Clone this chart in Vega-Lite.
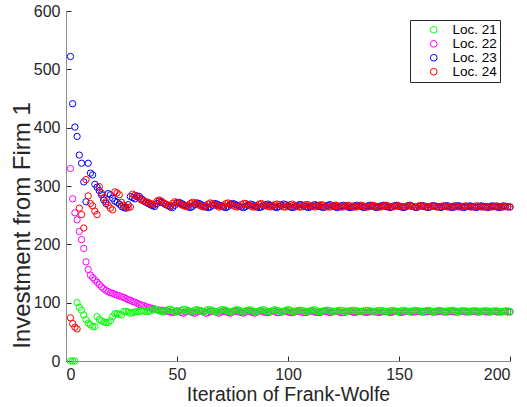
{
  "$schema": "https://vega.github.io/schema/vega-lite/v6.json",
  "width": 444,
  "height": 350,
  "autosize": "none",
  "padding": {"left": 66, "top": 11, "right": 17, "bottom": 46},
  "background": "white",
  "config": {
    "font": "Liberation Sans",
    "view": {"stroke": null},
    "axis": {
      "grid": false,
      "labelFontSize": 16,
      "labelColor": "#262626",
      "titleColor": "#262626",
      "titleFontWeight": "normal",
      "domainColor": "#8c8c8c",
      "tickColor": "#262626",
      "tickSize": -5,
      "labelPadding": 11
    }
  },
  "datasets": {
    "g": [
      {"i":2,"v":0},{"i":3,"v":0},{"i":4,"v":0},{"i":5,"v":100},{"i":6,"v":92},{"i":7,"v":87},{"i":8,"v":79},{"i":9,"v":71},{"i":10,"v":65},
      {"i":11,"v":62},{"i":12,"v":59},{"i":13,"v":59},{"i":14,"v":76},{"i":15,"v":71},{"i":16,"v":69},{"i":17,"v":67},{"i":18,"v":66},{"i":19,"v":66},{"i":20,"v":69},
      {"i":21,"v":76},{"i":22,"v":81},{"i":23,"v":81},{"i":24,"v":80},{"i":25,"v":79},{"i":26,"v":85},{"i":27,"v":85},{"i":28,"v":84},{"i":29,"v":82},{"i":30,"v":83},
      {"i":31,"v":84},{"i":32,"v":85},{"i":33,"v":85},{"i":34,"v":86},{"i":35,"v":86},{"i":36,"v":85},{"i":37,"v":85},{"i":38,"v":86},{"i":39,"v":88},{"i":40,"v":89},
      {"i":41,"v":88},{"i":42,"v":86},{"i":43,"v":85},{"i":44,"v":84},{"i":45,"v":86},{"i":46,"v":88},{"i":47,"v":89},{"i":48,"v":87},{"i":49,"v":85},{"i":50,"v":84},
      {"i":51,"v":85},{"i":52,"v":87},{"i":53,"v":89},{"i":54,"v":88},{"i":55,"v":86},{"i":56,"v":84},{"i":57,"v":85},{"i":58,"v":87},{"i":59,"v":88},{"i":60,"v":87},
      {"i":61,"v":85},{"i":62,"v":84},{"i":63,"v":86},{"i":64,"v":88},{"i":65,"v":88},{"i":66,"v":86},{"i":67,"v":85},{"i":68,"v":84},{"i":69,"v":86},{"i":70,"v":88},
      {"i":71,"v":88},{"i":72,"v":87},{"i":73,"v":85},{"i":74,"v":84},{"i":75,"v":85},{"i":76,"v":87},{"i":77,"v":88},{"i":78,"v":87},{"i":79,"v":85},{"i":80,"v":84},
      {"i":81,"v":86},{"i":82,"v":87},{"i":83,"v":88},{"i":84,"v":86},{"i":85,"v":85},{"i":86,"v":84},{"i":87,"v":86},{"i":88,"v":87},{"i":89,"v":88},{"i":90,"v":86},
      {"i":91,"v":85},{"i":92,"v":85},{"i":93,"v":86},{"i":94,"v":88},{"i":95,"v":87},{"i":96,"v":86},{"i":97,"v":84},{"i":98,"v":85},{"i":99,"v":87},{"i":100,"v":88},
      {"i":101,"v":87},{"i":102,"v":85},{"i":103,"v":85},{"i":104,"v":86},{"i":105,"v":87},{"i":106,"v":87},{"i":107,"v":86},{"i":108,"v":85},{"i":109,"v":85},{"i":110,"v":86},
      {"i":111,"v":87},{"i":112,"v":88},{"i":113,"v":86},{"i":114,"v":85},{"i":115,"v":85},{"i":116,"v":86},{"i":117,"v":87},{"i":118,"v":87},{"i":119,"v":86},{"i":120,"v":85},
      {"i":121,"v":85},{"i":122,"v":86},{"i":123,"v":87},{"i":124,"v":87},{"i":125,"v":86},{"i":126,"v":85},{"i":127,"v":85},{"i":128,"v":86},{"i":129,"v":87},{"i":130,"v":87},
      {"i":131,"v":86},{"i":132,"v":85},{"i":133,"v":85},{"i":134,"v":86},{"i":135,"v":87},{"i":136,"v":87},{"i":137,"v":86},{"i":138,"v":85},{"i":139,"v":85},{"i":140,"v":86},
      {"i":141,"v":87},{"i":142,"v":86},{"i":143,"v":86},{"i":144,"v":85},{"i":145,"v":85},{"i":146,"v":86},{"i":147,"v":87},{"i":148,"v":86},{"i":149,"v":85},{"i":150,"v":85},
      {"i":151,"v":86},{"i":152,"v":87},{"i":153,"v":86},{"i":154,"v":85},{"i":155,"v":85},{"i":156,"v":86},{"i":157,"v":87},{"i":158,"v":86},{"i":159,"v":86},{"i":160,"v":85},
      {"i":161,"v":85},{"i":162,"v":86},{"i":163,"v":87},{"i":164,"v":86},{"i":165,"v":85},{"i":166,"v":85},{"i":167,"v":86},{"i":168,"v":87},{"i":169,"v":86},{"i":170,"v":85},
      {"i":171,"v":85},{"i":172,"v":86},{"i":173,"v":86},{"i":174,"v":87},{"i":175,"v":86},{"i":176,"v":85},{"i":177,"v":85},{"i":178,"v":86},{"i":179,"v":86},{"i":180,"v":86},
      {"i":181,"v":85},{"i":182,"v":85},{"i":183,"v":86},{"i":184,"v":86},{"i":185,"v":86},{"i":186,"v":85},{"i":187,"v":85},{"i":188,"v":86},{"i":189,"v":86},{"i":190,"v":86},
      {"i":191,"v":85},{"i":192,"v":85},{"i":193,"v":86},{"i":194,"v":86},{"i":195,"v":85},{"i":196,"v":85},{"i":197,"v":85},{"i":198,"v":86},{"i":199,"v":86},{"i":200,"v":85}
    ],
    "m": [
      {"i":2,"v":330},{"i":3,"v":278},{"i":4,"v":254},{"i":5,"v":242},{"i":6,"v":222},{"i":7,"v":208},{"i":8,"v":193},{"i":9,"v":170},{"i":10,"v":157},
      {"i":11,"v":147},{"i":12,"v":143},{"i":13,"v":139},{"i":14,"v":135},{"i":15,"v":131},{"i":16,"v":127},{"i":17,"v":124},{"i":18,"v":121},{"i":19,"v":119},{"i":20,"v":117},
      {"i":21,"v":116},{"i":22,"v":114},{"i":23,"v":113},{"i":24,"v":112},{"i":25,"v":110},{"i":26,"v":109},{"i":27,"v":107},{"i":28,"v":105},{"i":29,"v":104},{"i":30,"v":102},
      {"i":31,"v":101},{"i":32,"v":99},{"i":33,"v":97},{"i":34,"v":96},{"i":35,"v":95},{"i":36,"v":93},{"i":37,"v":92},{"i":38,"v":91},{"i":39,"v":90},{"i":40,"v":89},
      {"i":41,"v":88},{"i":42,"v":87},{"i":43,"v":87},{"i":44,"v":86},{"i":45,"v":86},{"i":46,"v":85},{"i":47,"v":84},{"i":48,"v":83},{"i":49,"v":84},{"i":50,"v":86},
      {"i":51,"v":85},{"i":52,"v":83},{"i":53,"v":82},{"i":54,"v":84},{"i":55,"v":86},{"i":56,"v":85},{"i":57,"v":83},{"i":58,"v":82},{"i":59,"v":84},{"i":60,"v":86},
      {"i":61,"v":86},{"i":62,"v":84},{"i":63,"v":82},{"i":64,"v":83},{"i":65,"v":85},{"i":66,"v":86},{"i":67,"v":85},{"i":68,"v":83},{"i":69,"v":82},{"i":70,"v":84},
      {"i":71,"v":86},{"i":72,"v":85},{"i":73,"v":83},{"i":74,"v":82},{"i":75,"v":84},{"i":76,"v":85},{"i":77,"v":86},{"i":78,"v":84},{"i":79,"v":83},{"i":80,"v":82},
      {"i":81,"v":84},{"i":82,"v":86},{"i":83,"v":85},{"i":84,"v":83},{"i":85,"v":82},{"i":86,"v":84},{"i":87,"v":85},{"i":88,"v":86},{"i":89,"v":84},{"i":90,"v":83},
      {"i":91,"v":83},{"i":92,"v":84},{"i":93,"v":86},{"i":94,"v":85},{"i":95,"v":83},{"i":96,"v":83},{"i":97,"v":84},{"i":98,"v":85},{"i":99,"v":85},{"i":100,"v":84},
      {"i":101,"v":83},{"i":102,"v":83},{"i":103,"v":84},{"i":104,"v":85},{"i":105,"v":85},{"i":106,"v":84},{"i":107,"v":83},{"i":108,"v":83},{"i":109,"v":84},{"i":110,"v":85},
      {"i":111,"v":86},{"i":112,"v":84},{"i":113,"v":83},{"i":114,"v":83},{"i":115,"v":84},{"i":116,"v":85},{"i":117,"v":85},{"i":118,"v":84},{"i":119,"v":83},{"i":120,"v":84},
      {"i":121,"v":85},{"i":122,"v":85},{"i":123,"v":84},{"i":124,"v":83},{"i":125,"v":83},{"i":126,"v":84},{"i":127,"v":85},{"i":128,"v":85},{"i":129,"v":84},{"i":130,"v":83},
      {"i":131,"v":84},{"i":132,"v":85},{"i":133,"v":85},{"i":134,"v":84},{"i":135,"v":83},{"i":136,"v":84},{"i":137,"v":84},{"i":138,"v":85},{"i":139,"v":84},{"i":140,"v":84},
      {"i":141,"v":83},{"i":142,"v":84},{"i":143,"v":85},{"i":144,"v":85},{"i":145,"v":84},{"i":146,"v":83},{"i":147,"v":84},{"i":148,"v":85},{"i":149,"v":85},{"i":150,"v":84},
      {"i":151,"v":83},{"i":152,"v":84},{"i":153,"v":85},{"i":154,"v":85},{"i":155,"v":84},{"i":156,"v":84},{"i":157,"v":84},{"i":158,"v":85},{"i":159,"v":85},{"i":160,"v":84},
      {"i":161,"v":84},{"i":162,"v":84},{"i":163,"v":85},{"i":164,"v":85},{"i":165,"v":84},{"i":166,"v":84},{"i":167,"v":84},{"i":168,"v":85},{"i":169,"v":85},{"i":170,"v":84},
      {"i":171,"v":84},{"i":172,"v":84},{"i":173,"v":85},{"i":174,"v":85},{"i":175,"v":84},{"i":176,"v":84},{"i":177,"v":84},{"i":178,"v":85},{"i":179,"v":85},{"i":180,"v":84},
      {"i":181,"v":84},{"i":182,"v":84},{"i":183,"v":85},{"i":184,"v":85},{"i":185,"v":84},{"i":186,"v":84},{"i":187,"v":85},{"i":188,"v":85},{"i":189,"v":84},{"i":190,"v":84},
      {"i":191,"v":84},{"i":192,"v":85},{"i":193,"v":85},{"i":194,"v":84},{"i":195,"v":84},{"i":196,"v":84},{"i":197,"v":85},{"i":198,"v":85},{"i":199,"v":84},{"i":200,"v":84}
    ],
    "b": [
      {"i":2,"v":522},{"i":3,"v":441},{"i":4,"v":401},{"i":5,"v":385},{"i":6,"v":353},{"i":7,"v":339},{"i":8,"v":307},{"i":9,"v":273},{"i":10,"v":339},
      {"i":11,"v":322},{"i":12,"v":319},{"i":13,"v":303},{"i":14,"v":298},{"i":15,"v":292},{"i":16,"v":285},{"i":17,"v":276},{"i":18,"v":270},{"i":19,"v":287},{"i":20,"v":285},
      {"i":21,"v":279},{"i":22,"v":274},{"i":23,"v":272},{"i":24,"v":269},{"i":25,"v":265},{"i":26,"v":263},{"i":27,"v":262},{"i":28,"v":268},{"i":29,"v":282},{"i":30,"v":280},
      {"i":31,"v":278},{"i":32,"v":283},{"i":33,"v":282},{"i":34,"v":278},{"i":35,"v":275},{"i":36,"v":272},{"i":37,"v":270},{"i":38,"v":268},{"i":39,"v":266},{"i":40,"v":265},
      {"i":41,"v":270},{"i":42,"v":274},{"i":43,"v":272},{"i":44,"v":270},{"i":45,"v":268},{"i":46,"v":266},{"i":47,"v":264},{"i":48,"v":263},{"i":49,"v":267},{"i":50,"v":271},
      {"i":51,"v":272},{"i":52,"v":270},{"i":53,"v":268},{"i":54,"v":266},{"i":55,"v":264},{"i":56,"v":263},{"i":57,"v":265},{"i":58,"v":268},{"i":59,"v":271},{"i":60,"v":270},
      {"i":61,"v":268},{"i":62,"v":266},{"i":63,"v":264},{"i":64,"v":263},{"i":65,"v":264},{"i":66,"v":267},{"i":67,"v":270},{"i":68,"v":269},{"i":69,"v":267},{"i":70,"v":265},
      {"i":71,"v":264},{"i":72,"v":263},{"i":73,"v":265},{"i":74,"v":268},{"i":75,"v":270},{"i":76,"v":269},{"i":77,"v":267},{"i":78,"v":265},{"i":79,"v":264},{"i":80,"v":263},
      {"i":81,"v":265},{"i":82,"v":267},{"i":83,"v":269},{"i":84,"v":268},{"i":85,"v":266},{"i":86,"v":264},{"i":87,"v":263},{"i":88,"v":264},{"i":89,"v":266},{"i":90,"v":268},
      {"i":91,"v":269},{"i":92,"v":267},{"i":93,"v":265},{"i":94,"v":264},{"i":95,"v":263},{"i":96,"v":265},{"i":97,"v":267},{"i":98,"v":269},{"i":99,"v":268},{"i":100,"v":266},
      {"i":101,"v":264},{"i":102,"v":263},{"i":103,"v":264},{"i":104,"v":266},{"i":105,"v":268},{"i":106,"v":268},{"i":107,"v":266},{"i":108,"v":265},{"i":109,"v":263},{"i":110,"v":264},
      {"i":111,"v":266},{"i":112,"v":268},{"i":113,"v":267},{"i":114,"v":265},{"i":115,"v":264},{"i":116,"v":263},{"i":117,"v":265},{"i":118,"v":267},{"i":119,"v":268},{"i":120,"v":266},
      {"i":121,"v":265},{"i":122,"v":263},{"i":123,"v":264},{"i":124,"v":266},{"i":125,"v":267},{"i":126,"v":266},{"i":127,"v":264},{"i":128,"v":263},{"i":129,"v":264},{"i":130,"v":266},
      {"i":131,"v":267},{"i":132,"v":266},{"i":133,"v":265},{"i":134,"v":263},{"i":135,"v":264},{"i":136,"v":266},{"i":137,"v":267},{"i":138,"v":266},{"i":139,"v":264},{"i":140,"v":263},
      {"i":141,"v":265},{"i":142,"v":266},{"i":143,"v":267},{"i":144,"v":265},{"i":145,"v":264},{"i":146,"v":263},{"i":147,"v":265},{"i":148,"v":266},{"i":149,"v":267},{"i":150,"v":265},
      {"i":151,"v":264},{"i":152,"v":263},{"i":153,"v":264},{"i":154,"v":266},{"i":155,"v":267},{"i":156,"v":265},{"i":157,"v":264},{"i":158,"v":263},{"i":159,"v":265},{"i":160,"v":266},
      {"i":161,"v":266},{"i":162,"v":265},{"i":163,"v":263},{"i":164,"v":264},{"i":165,"v":266},{"i":166,"v":266},{"i":167,"v":265},{"i":168,"v":264},{"i":169,"v":263},{"i":170,"v":265},
      {"i":171,"v":266},{"i":172,"v":266},{"i":173,"v":264},{"i":174,"v":263},{"i":175,"v":264},{"i":176,"v":266},{"i":177,"v":266},{"i":178,"v":265},{"i":179,"v":263},{"i":180,"v":264},
      {"i":181,"v":265},{"i":182,"v":266},{"i":183,"v":265},{"i":184,"v":264},{"i":185,"v":263},{"i":186,"v":265},{"i":187,"v":266},{"i":188,"v":265},{"i":189,"v":264},{"i":190,"v":263},
      {"i":191,"v":265},{"i":192,"v":266},{"i":193,"v":265},{"i":194,"v":264},{"i":195,"v":263},{"i":196,"v":264},{"i":197,"v":266},{"i":198,"v":265},{"i":199,"v":264},{"i":200,"v":264}
    ],
    "r": [
      {"i":2,"v":74},{"i":3,"v":64},{"i":4,"v":58},{"i":5,"v":55},{"i":6,"v":262},{"i":7,"v":251},{"i":8,"v":228},{"i":9,"v":311},{"i":10,"v":283},
      {"i":11,"v":270},{"i":12,"v":266},{"i":13,"v":257},{"i":14,"v":251},{"i":15,"v":299},{"i":16,"v":288},{"i":17,"v":280},{"i":18,"v":273},{"i":19,"v":267},{"i":20,"v":262},
      {"i":21,"v":259},{"i":22,"v":290},{"i":23,"v":288},{"i":24,"v":285},{"i":25,"v":272},{"i":26,"v":267},{"i":27,"v":264},{"i":28,"v":263},{"i":29,"v":264},{"i":30,"v":286},
      {"i":31,"v":284},{"i":32,"v":282},{"i":33,"v":279},{"i":34,"v":276},{"i":35,"v":274},{"i":36,"v":273},{"i":37,"v":272},{"i":38,"v":270},{"i":39,"v":269},{"i":40,"v":268},
      {"i":41,"v":274},{"i":42,"v":276},{"i":43,"v":274},{"i":44,"v":271},{"i":45,"v":269},{"i":46,"v":267},{"i":47,"v":266},{"i":48,"v":270},{"i":49,"v":273},{"i":50,"v":272},
      {"i":51,"v":270},{"i":52,"v":268},{"i":53,"v":266},{"i":54,"v":265},{"i":55,"v":267},{"i":56,"v":270},{"i":57,"v":272},{"i":58,"v":271},{"i":59,"v":269},{"i":60,"v":267},
      {"i":61,"v":265},{"i":62,"v":264},{"i":63,"v":266},{"i":64,"v":269},{"i":65,"v":271},{"i":66,"v":270},{"i":67,"v":268},{"i":68,"v":266},{"i":69,"v":264},{"i":70,"v":265},
      {"i":71,"v":267},{"i":72,"v":270},{"i":73,"v":271},{"i":74,"v":269},{"i":75,"v":267},{"i":76,"v":265},{"i":77,"v":264},{"i":78,"v":265},{"i":79,"v":268},{"i":80,"v":270},
      {"i":81,"v":270},{"i":82,"v":268},{"i":83,"v":266},{"i":84,"v":264},{"i":85,"v":264},{"i":86,"v":266},{"i":87,"v":269},{"i":88,"v":270},{"i":89,"v":268},{"i":90,"v":266},
      {"i":91,"v":265},{"i":92,"v":264},{"i":93,"v":266},{"i":94,"v":268},{"i":95,"v":269},{"i":96,"v":268},{"i":97,"v":266},{"i":98,"v":264},{"i":99,"v":264},{"i":100,"v":266},
      {"i":101,"v":268},{"i":102,"v":269},{"i":103,"v":267},{"i":104,"v":265},{"i":105,"v":264},{"i":106,"v":264},{"i":107,"v":266},{"i":108,"v":268},{"i":109,"v":268},{"i":110,"v":266},
      {"i":111,"v":265},{"i":112,"v":264},{"i":113,"v":265},{"i":114,"v":267},{"i":115,"v":268},{"i":116,"v":267},{"i":117,"v":265},{"i":118,"v":264},{"i":119,"v":264},{"i":120,"v":266},
      {"i":121,"v":267},{"i":122,"v":267},{"i":123,"v":265},{"i":124,"v":264},{"i":125,"v":264},{"i":126,"v":266},{"i":127,"v":267},{"i":128,"v":266},{"i":129,"v":265},{"i":130,"v":264},
      {"i":131,"v":264},{"i":132,"v":266},{"i":133,"v":267},{"i":134,"v":266},{"i":135,"v":264},{"i":136,"v":264},{"i":137,"v":265},{"i":138,"v":267},{"i":139,"v":266},{"i":140,"v":265},
      {"i":141,"v":264},{"i":142,"v":264},{"i":143,"v":266},{"i":144,"v":267},{"i":145,"v":266},{"i":146,"v":264},{"i":147,"v":264},{"i":148,"v":265},{"i":149,"v":266},{"i":150,"v":266},
      {"i":151,"v":265},{"i":152,"v":264},{"i":153,"v":265},{"i":154,"v":266},{"i":155,"v":266},{"i":156,"v":265},{"i":157,"v":264},{"i":158,"v":264},{"i":159,"v":266},{"i":160,"v":266},
      {"i":161,"v":265},{"i":162,"v":264},{"i":163,"v":264},{"i":164,"v":265},{"i":165,"v":266},{"i":166,"v":265},{"i":167,"v":264},{"i":168,"v":264},{"i":169,"v":265},{"i":170,"v":266},
      {"i":171,"v":265},{"i":172,"v":264},{"i":173,"v":264},{"i":174,"v":265},{"i":175,"v":266},{"i":176,"v":265},{"i":177,"v":264},{"i":178,"v":264},{"i":179,"v":265},{"i":180,"v":266},
      {"i":181,"v":265},{"i":182,"v":264},{"i":183,"v":264},{"i":184,"v":265},{"i":185,"v":266},{"i":186,"v":265},{"i":187,"v":264},{"i":188,"v":264},{"i":189,"v":265},{"i":190,"v":265},
      {"i":191,"v":264},{"i":192,"v":264},{"i":193,"v":265},{"i":194,"v":266},{"i":195,"v":265},{"i":196,"v":264},{"i":197,"v":264},{"i":198,"v":265},{"i":199,"v":265},{"i":200,"v":264}
    ]
  },
  "encoding": {
    "x": {
      "field": "i", "type": "quantitative",
      "scale": {"domain": [0, 200], "nice": false, "zero": false},
      "axis": {"values": [0, 50, 100, 150, 200], "title": "Iteration of Frank-Wolfe", "titleFontSize": 19.5, "titleX": 222, "titleY": 39, "titleBaseline": "alphabetic", "labelPadding": 10.5}
    },
    "y": {
      "field": "v", "type": "quantitative",
      "scale": {"domain": [0, 600], "nice": false},
      "axis": {"values": [0, 100, 200, 300, 400, 500, 600], "title": "Investment from Firm 1", "titleFontSize": 24, "titleX": -37, "titleY": 214, "titleBaseline": "alphabetic"}
    },
    "color": {
      "type": "nominal",
      "scale": {"domain": ["Loc. 21", "Loc. 22", "Loc. 23", "Loc. 24"], "range": ["#00ff00", "#ff00ff", "#0000ff", "#ff0000"]},
      "legend": {
        "title": null,
        "orient": "none",
        "legendX": 344,
        "legendY": 9,
        "strokeColor": "#262626",
        "fillColor": "white",
        "padding": 3,
        "labelFontSize": 13.5,
        "labelColor": "#000000",
        "symbolType": "circle",
        "symbolSize": 45,
        "symbolStrokeWidth": 1,
        "symbolOffset": 14,
        "labelOffset": 12,
        "rowPadding": -1
      }
    }
  },
  "layer": [
    {"data": {"name": "m"}, "mark": {"type": "point", "filled": false, "size": 40, "strokeWidth": 1, "opacity": 1}, "encoding": {"color": {"datum": "Loc. 22"}}},
    {"data": {"name": "g"}, "mark": {"type": "point", "filled": false, "size": 40, "strokeWidth": 1, "opacity": 1}, "encoding": {"color": {"datum": "Loc. 21"}}},
    {"data": {"name": "b"}, "mark": {"type": "point", "filled": false, "size": 40, "strokeWidth": 1, "opacity": 1}, "encoding": {"color": {"datum": "Loc. 23"}}},
    {"data": {"name": "r"}, "mark": {"type": "point", "filled": false, "size": 40, "strokeWidth": 1, "opacity": 1}, "encoding": {"color": {"datum": "Loc. 24"}}}
  ]
}
